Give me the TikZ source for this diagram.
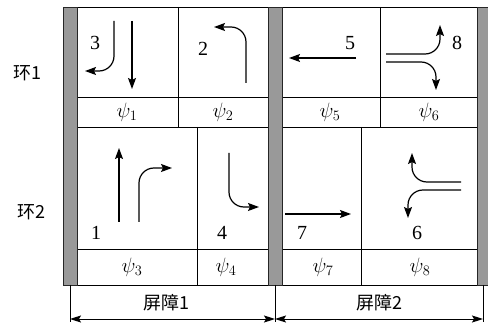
\documentclass[tikz,border=0pt]{standalone}
\usepackage{fontspec}
\setmainfont{Liberation Serif}
\newfontfamily\cjk{Noto Sans CJK SC}
\usetikzlibrary{arrows.meta}

\begin{document}
\begin{tikzpicture}[x=1pt,y=-1pt,
  every node/.style={inner sep=0pt,font=\fontsize{20}{24}\selectfont},
  cell/.style={line width=0.9pt},
  bar/.style={fill=black!40,draw=black!85,line width=0.8pt},
  flow/.style={line width=1.2pt,-{Stealth[length=11pt,width=8pt,inset=2pt]}},
  turn/.style={flow,rounded corners=15pt},
  dim/.style={line width=1pt,{Stealth[length=11pt,width=7pt,inset=2pt]}-{Stealth[length=11pt,width=7pt,inset=2pt]}}]
\useasboundingbox (0,0) rectangle (488,326);

% phase grid
\draw[cell] (63,7) -- (488,7);
\foreach \y in {97,127,249,285} {
  \draw[cell] (77,\y) -- (269,\y);
  \draw[cell] (282,\y) -- (477,\y);
}
\draw[cell] (178,7) -- (178,127);
\draw[cell] (197,127) -- (197,285);
\draw[cell] (380,7) -- (380,127);
\draw[cell] (361,127) -- (361,285);

% barriers
\foreach \x in {63,268,477}
  \draw[bar] (\x,7) rectangle +(14,278);

% ring 1 movements
\draw[turn] (114,21) -- (114,71) -- (85,71);
\draw[flow] (132,21) -- (132,89);
\draw[turn] (246,83) -- (246,27) -- (214,27);
\draw[flow] (356,58) -- (289,58);
\draw[turn] (386,54) -- (440,54) -- (440,25);
\draw[turn] (386,62) -- (436,62) -- (436,90);

% ring 2 movements
\draw[flow] (119,222) -- (119,148);
\draw[turn] (139,222) -- (139,168) -- (172,168);
\draw[turn] (229,153) -- (229,207) -- (259,207);
\draw[flow] (285,214) -- (351,214);
\draw[turn] (461,182) -- (412,182) -- (412,153);
\draw[turn] (461,190) -- (408,190) -- (408,218);

\node (m3) at (95,43) {3};
\node (m2) at (203,49) {2};
\node (m5) at (350,43) {5};
\node (m8) at (457,43) {8};
\node (m1) at (96,233) {1};
\node (m4) at (222,233) {4};
\node (m7) at (302,233) {7};
\node (m6) at (417,233) {6};

\node (psi1) at (127,112) {$\psi_1$};
\node (psi2) at (223,112) {$\psi_2$};
\node (psi5) at (330,112) {$\psi_5$};
\node (psi6) at (429,112) {$\psi_6$};
\node (psi3) at (132,267) {$\psi_3$};
\node (psi4) at (226,267) {$\psi_4$};
\node (psi7) at (323,267) {$\psi_7$};
\node (psi8) at (420,267) {$\psi_8$};

\node[font=\cjk\fontsize{18}{22}\selectfont] (ring1) at (27,73) {环1};
\node[font=\cjk\fontsize{18}{22}\selectfont] (ring2) at (31,212) {环2};

% barrier spans
\coordinate (b0) at (70,319);
\coordinate (b1) at (275,319);
\coordinate (b2) at (483,319);
\foreach \c in {b0,b1,b2}
  \draw[line width=1pt] (\c |- 0,285) -- ([yshift=-3pt]\c);
\draw[dim] (b0) -- (b1);
\draw[dim] (b1) -- (b2);
\node[font=\cjk\fontsize{18}{22}\selectfont] (span1) at (166,303) {屏障1};
\node[font=\cjk\fontsize{18}{22}\selectfont] (span2) at (379,303) {屏障2};
\end{tikzpicture}
\end{document}
